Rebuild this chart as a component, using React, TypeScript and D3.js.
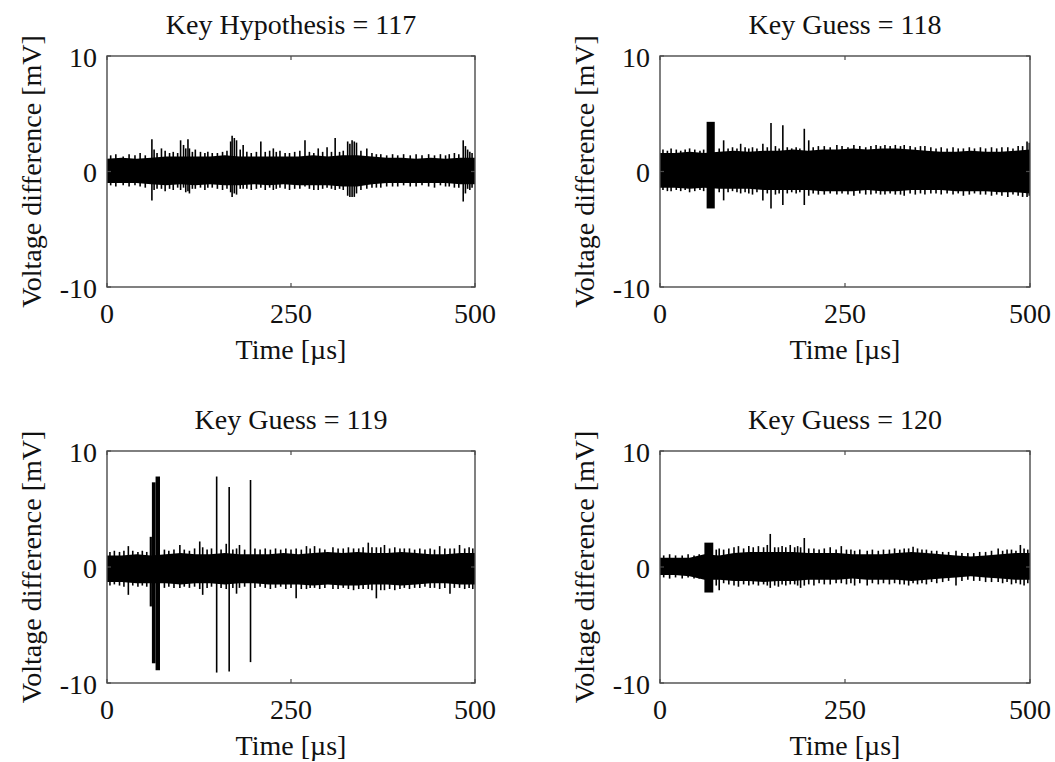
import { useEffect, useRef } from "react";
import * as d3 from "d3";

// time grid (µs) for the noise band envelope
const envTime = [0, 20, 40, 60, 80, 100, 120, 140, 160, 180, 200, 220, 240, 260, 280, 300, 320, 340, 360, 380, 400, 420, 440, 460, 480, 500];

const titles = ["Key Hypothesis = 117", "Key Guess = 118", "Key Guess = 119", "Key Guess = 120"];
const xTicks = [0, 250, 500];
const yTicks = [-10, 0, 10];
const xLabel = "Time [µs]";
const yLabel = "Voltage difference [mV]";

// Key 117
const hi117 = [1.1, 1.2, 1.1, 1.2, 1.3, 1.3, 1.3, 1.3, 1.4, 1.3, 1.3, 1.3, 1.3, 1.3, 1.4, 1.3, 1.4, 1.4, 1.3, 1.2, 1.2, 1.1, 1.2, 1.1, 1.2, 1.2];
const lo117 = [-1.0, -1.0, -1.0, -1.1, -1.2, -1.1, -1.2, -1.1, -1.2, -1.2, -1.1, -1.2, -1.1, -1.2, -1.2, -1.2, -1.3, -1.3, -1.1, -1.0, -1.0, -1.0, -1.0, -1.0, -1.1, -1.1];
const spikes117: [number, number, number][] = [
  [5, 1.4, -1.2], [12, 1.5, -1.3], [22, 1.3, -1.2], [30, 1.5, -1.3], [38, 1.4, -1.2], [45, 1.6, -1.3], [52, 1.4, -1.4],
  [61, 2.8, -2.5], [64, 1.9, -1.6], [68, 1.6, -1.5], [74, 2.0, -1.5], [79, 1.8, -1.7], [85, 1.6, -1.5], [90, 1.7, -1.6],
  [96, 1.6, -1.4], [100, 2.7, -1.6], [104, 2.3, -1.4], [107, 2.0, -1.8], [110, 2.8, -1.7], [112, 2.0, -1.9], [116, 1.7, -1.5],
  [120, 1.9, -1.5], [127, 1.7, -1.4], [133, 1.6, -1.6], [137, 1.7, -1.4], [143, 1.6, -1.4], [150, 1.6, -1.5], [157, 1.7, -1.6],
  [163, 1.8, -1.5], [168, 2.6, -1.8], [170, 3.1, -2.2], [173, 2.9, -1.9], [176, 2.7, -2.0], [181, 1.9, -1.5], [185, 2.3, -1.5],
  [190, 1.7, -1.5], [196, 1.6, -1.6], [203, 1.7, -1.5], [209, 2.6, -1.4], [215, 1.7, -1.6], [221, 1.8, -1.4], [226, 2.0, -1.6],
  [230, 1.7, -1.5], [235, 1.8, -1.4], [242, 1.6, -1.5], [248, 1.6, -1.6], [255, 1.7, -1.5], [262, 1.8, -1.5], [269, 2.7, -1.3],
  [275, 1.7, -1.5], [281, 1.6, -1.6], [287, 2.0, -1.6], [293, 1.7, -1.5], [299, 2.1, -1.4], [305, 1.7, -1.5], [310, 2.9, -1.6],
  [316, 1.7, -1.5], [321, 1.8, -1.6], [327, 2.6, -2.1], [330, 2.4, -2.2], [333, 2.7, -2.2], [336, 2.6, -2.2], [339, 2.5, -1.9],
  [345, 1.8, -1.6], [353, 2.0, -1.5], [360, 1.6, -1.4], [366, 1.5, -1.4], [372, 1.5, -1.4], [380, 1.4, -1.3], [388, 1.5, -1.3],
  [395, 1.4, -1.3], [403, 1.5, -1.2], [412, 1.4, -1.3], [420, 1.5, -1.3], [428, 1.4, -1.2], [437, 1.5, -1.3], [445, 1.4, -1.4],
  [453, 1.5, -1.2], [460, 1.4, -1.3], [465, 1.5, -1.3], [472, 1.6, -1.4], [478, 1.5, -1.4], [484, 2.7, -2.6], [487, 2.2, -1.9],
  [490, 1.9, -1.5], [493, 1.7, -1.6], [496, 1.6, -1.4],
];
const bursts117: [number, number, number, number][] = [];

// Key 118
const hi118 = [1.6, 1.6, 1.7, 1.6, 1.7, 1.8, 1.7, 1.8, 1.8, 1.9, 1.8, 1.9, 1.9, 2.0, 1.9, 2.0, 2.0, 1.9, 1.8, 1.7, 1.7, 1.8, 1.7, 1.7, 1.8, 1.9];
const lo118 = [-1.4, -1.4, -1.5, -1.4, -1.5, -1.5, -1.5, -1.6, -1.6, -1.6, -1.6, -1.7, -1.7, -1.7, -1.6, -1.7, -1.7, -1.6, -1.6, -1.6, -1.7, -1.7, -1.7, -1.8, -1.8, -1.9];
const spikes118: [number, number, number][] = [
  [4, 1.9, -1.6], [10, 1.8, -1.7], [15, 2.0, -1.7], [22, 1.9, -1.6], [28, 1.8, -1.7], [34, 1.9, -1.6], [40, 2.0, -1.8],
  [47, 1.9, -1.7], [54, 1.8, -1.6], [59, 1.9, -1.7], [80, 2.0, -1.8], [86, 2.7, -2.5], [92, 2.0, -1.8], [98, 2.1, -1.7],
  [104, 2.0, -1.8], [109, 2.4, -1.9], [115, 2.1, -1.8], [120, 2.0, -1.9], [125, 2.1, -2.0], [131, 2.0, -1.8], [139, 2.4, -2.5],
  [145, 2.1, -1.9], [150, 4.2, -3.2], [156, 2.2, -2.0], [161, 2.0, -1.9], [166, 4.0, -2.9], [172, 2.1, -1.9], [178, 2.0, -1.8],
  [184, 2.1, -1.9], [189, 2.0, -1.8], [195, 3.7, -2.9], [201, 2.7, -2.1], [207, 2.1, -1.9], [214, 2.2, -2.0], [222, 2.2, -2.0],
  [230, 2.1, -1.9], [239, 2.3, -2.0], [246, 2.2, -1.9], [254, 2.1, -2.0], [262, 2.3, -2.1], [270, 2.2, -1.9], [278, 2.1, -2.0],
  [285, 2.2, -2.0], [292, 2.3, -1.9], [298, 2.2, -2.0], [304, 2.3, -2.0], [311, 2.2, -1.9], [318, 2.3, -2.0], [325, 2.2, -2.0],
  [330, 2.3, -2.1], [338, 2.2, -1.9], [345, 2.1, -2.0], [352, 2.2, -1.9], [358, 2.2, -2.0], [366, 2.1, -1.9], [373, 2.0, -1.9],
  [380, 2.1, -2.0], [388, 2.0, -1.9], [396, 2.1, -2.0], [403, 2.0, -1.9], [410, 2.0, -2.1], [418, 2.1, -2.0], [425, 2.0, -1.9],
  [433, 2.1, -2.0], [440, 2.0, -2.0], [448, 2.1, -2.1], [455, 2.0, -2.0], [462, 2.1, -2.1], [470, 2.1, -2.2], [477, 2.0, -2.0],
  [484, 2.2, -2.1], [490, 2.2, -2.2], [496, 2.6, -2.2], [499, 2.5, -2.1],
];
const bursts118: [number, number, number, number][] = [
  [63, 74, 4.3, -3.2],
];

// Key 119
const hi119 = [1.0, 1.0, 1.1, 1.0, 1.1, 1.2, 1.1, 1.1, 1.2, 1.1, 1.1, 1.1, 1.2, 1.1, 1.2, 1.3, 1.2, 1.3, 1.2, 1.2, 1.3, 1.2, 1.1, 1.1, 1.2, 1.2];
const lo119 = [-1.3, -1.3, -1.4, -1.4, -1.4, -1.5, -1.4, -1.4, -1.5, -1.4, -1.4, -1.5, -1.5, -1.5, -1.6, -1.5, -1.6, -1.6, -1.5, -1.5, -1.6, -1.5, -1.4, -1.4, -1.5, -1.5];
const spikes119: [number, number, number][] = [
  [4, 1.3, -1.6], [10, 1.4, -1.5], [17, 1.3, -1.6], [23, 1.4, -1.7], [29, 1.8, -2.4], [35, 1.4, -1.6], [42, 1.3, -1.7],
  [48, 1.4, -1.6], [54, 1.3, -1.7], [78, 1.5, -1.8], [84, 1.4, -1.7], [91, 1.5, -1.8], [99, 1.9, -1.8], [105, 1.5, -1.7],
  [112, 1.4, -1.8], [119, 1.6, -1.7], [126, 2.2, -1.9], [130, 1.7, -2.4], [136, 1.5, -1.8], [142, 1.6, -1.7], [149, 7.8, -9.1],
  [155, 1.5, -1.8], [162, 2.0, -1.9], [166, 6.9, -9.0], [171, 1.5, -1.8], [176, 1.6, -2.3], [180, 1.9, -1.8], [187, 1.5, -1.7],
  [195, 7.5, -8.2], [201, 1.6, -1.8], [208, 1.5, -1.7], [215, 1.6, -1.8], [222, 1.5, -1.9], [229, 1.6, -1.8], [236, 1.5, -1.7],
  [243, 1.6, -1.9], [250, 1.5, -1.8], [257, 1.6, -2.7], [264, 1.5, -1.9], [271, 1.8, -1.9], [276, 1.6, -1.8], [282, 1.8, -1.8],
  [289, 1.6, -1.9], [296, 1.5, -1.8], [307, 1.7, -1.9], [314, 1.6, -1.9], [321, 1.6, -1.8], [328, 1.7, -1.9], [335, 1.6, -2.0],
  [342, 1.6, -1.9], [348, 1.7, -1.9], [355, 2.1, -1.9], [360, 1.7, -2.0], [366, 1.7, -2.7], [372, 1.7, -2.0], [377, 1.9, -2.0],
  [384, 1.6, -1.9], [391, 1.7, -2.0], [398, 1.6, -1.9], [404, 1.6, -1.8], [411, 1.6, -1.9], [418, 1.5, -1.8], [425, 1.6, -1.8],
  [432, 1.5, -1.7], [439, 1.6, -1.8], [445, 1.5, -1.8], [452, 1.8, -1.9], [459, 1.6, -1.8], [466, 1.6, -2.3], [472, 1.6, -1.8],
  [479, 1.9, -1.8], [486, 1.6, -1.9], [492, 1.7, -1.8], [497, 1.6, -1.9],
];
const bursts119: [number, number, number, number][] = [
  [58, 61, 2.6, -3.4], [61, 66, 7.3, -8.3], [66, 72, 7.8, -8.9],
];

// Key 120
const hi120 = [0.8, 0.8, 0.8, 1.1, 1.0, 1.2, 1.3, 1.3, 1.3, 1.3, 1.2, 1.2, 1.2, 1.1, 1.1, 1.1, 1.2, 1.3, 1.2, 1.1, 1.0, 0.9, 1.0, 1.1, 1.2, 1.2];
const lo120 = [-0.7, -0.7, -0.8, -1.1, -1.1, -1.2, -1.2, -1.3, -1.2, -1.2, -1.1, -1.1, -1.1, -1.0, -1.1, -1.1, -1.1, -1.2, -1.1, -1.0, -0.9, -0.8, -0.9, -1.0, -1.1, -1.1];
const spikes120: [number, number, number][] = [
  [5, 1.0, -0.9], [13, 1.1, -1.0], [21, 1.0, -0.9], [30, 1.0, -1.0], [38, 1.1, -0.9], [46, 1.0, -1.0], [53, 1.1, -1.0],
  [76, 1.5, -1.6], [80, 1.6, -2.0], [86, 1.5, -1.4], [93, 1.6, -1.5], [100, 1.7, -1.6], [106, 1.8, -1.7], [113, 1.6, -1.5],
  [120, 1.8, -1.6], [126, 1.7, -1.5], [133, 1.8, -1.6], [140, 1.7, -1.5], [145, 1.9, -1.6], [149, 2.85, -1.8], [155, 1.7, -1.6],
  [160, 1.7, -1.7], [165, 1.8, -1.5], [170, 1.7, -1.6], [176, 1.9, -1.5], [182, 1.7, -1.5], [186, 1.8, -1.6], [190, 1.7, -1.8],
  [195, 2.5, -1.6], [201, 1.6, -1.5], [208, 1.6, -1.6], [215, 1.5, -1.4], [222, 1.6, -1.5], [230, 1.7, -1.5], [238, 1.5, -1.4],
  [245, 1.8, -1.4], [252, 1.5, -1.5], [258, 1.5, -1.4], [263, 1.4, -1.6], [270, 1.5, -1.4], [280, 1.4, -1.6], [287, 1.5, -1.4],
  [295, 1.4, -1.5], [302, 1.5, -1.4], [310, 1.5, -1.5], [317, 1.6, -1.4], [324, 1.5, -1.5], [330, 1.6, -1.5], [336, 1.6, -1.6],
  [342, 1.75, -1.4], [348, 1.6, -1.5], [354, 1.5, -1.4], [360, 1.5, -1.5], [367, 1.4, -1.3], [374, 1.4, -1.4], [382, 1.3, -1.3],
  [390, 1.3, -1.2], [400, 1.4, -1.6], [408, 1.2, -1.2], [416, 1.2, -1.1], [424, 1.2, -1.2], [432, 1.3, -1.2], [440, 1.3, -1.3],
  [448, 1.4, -1.3], [457, 1.6, -1.3], [463, 1.4, -1.4], [469, 1.5, -1.3], [475, 1.5, -1.5], [481, 1.4, -1.4], [487, 1.9, -1.5],
  [492, 1.6, -1.6], [497, 1.5, -1.4],
];
const bursts120: [number, number, number, number][] = [
  [60, 72, 2.1, -2.2],
];

const panels = [
  { title: titles[0], hi: hi117, lo: lo117, spikes: spikes117, bursts: bursts117, left: 107, top: 56, w: 368, h: 231 },
  { title: titles[1], hi: hi118, lo: lo118, spikes: spikes118, bursts: bursts118, left: 660, top: 56, w: 370, h: 231 },
  { title: titles[2], hi: hi119, lo: lo119, spikes: spikes119, bursts: bursts119, left: 107, top: 451, w: 368, h: 232 },
  { title: titles[3], hi: hi120, lo: lo120, spikes: spikes120, bursts: bursts120, left: 660, top: 451, w: 370, h: 232 },
];

export default function App() {
  const ref = useRef<SVGSVGElement>(null);

  useEffect(() => {
    const svg = d3.select(ref.current);
    svg.selectAll("*").remove();

    const font = "'Liberation Serif', 'Times New Roman', serif";

    panels.forEach((p, i) => {
      const x = d3.scaleLinear().domain([0, 500]).range([0, p.w]);
      const y = d3.scaleLinear().domain([-10, 10]).range([p.h, 0]);

      const g = svg.append("g").attr("transform", `translate(${p.left},${p.top})`);

      g.append("clipPath")
        .attr("id", `clip${i}`)
        .append("rect")
        .attr("width", p.w)
        .attr("height", p.h);

      const plot = g.append("g").attr("clip-path", `url(#clip${i})`);

      // dense noise band
      const area = d3
        .area<number>()
        .x((_, j) => x(envTime[j]))
        .y0((_, j) => y(p.lo[j]))
        .y1((_, j) => y(p.hi[j]));

      plot.append("path").datum(p.hi).attr("fill", "#000").attr("d", area);

      // bursts
      plot
        .selectAll(".burst")
        .data(p.bursts)
        .enter()
        .append("rect")
        .attr("x", (d) => x(d[0]))
        .attr("width", (d) => x(d[1]) - x(d[0]))
        .attr("y", (d) => y(d[2]))
        .attr("height", (d) => y(d[3]) - y(d[2]))
        .attr("fill", "#000");

      // spikes
      plot
        .selectAll(".spike")
        .data(p.spikes)
        .enter()
        .append("line")
        .attr("x1", (d) => x(d[0]))
        .attr("x2", (d) => x(d[0]))
        .attr("y1", (d) => y(d[1]))
        .attr("y2", (d) => y(d[2]))
        .attr("stroke", "#000")
        .attr("stroke-width", 1.6);

      // box
      g.append("rect")
        .attr("width", p.w)
        .attr("height", p.h)
        .attr("fill", "none")
        .attr("stroke", "#4a4a4a")
        .attr("stroke-width", 1.4);

      // inward ticks
      xTicks.forEach((t) => {
        g.append("line").attr("x1", x(t)).attr("x2", x(t)).attr("y1", p.h).attr("y2", p.h - 4).attr("stroke", "#4a4a4a").attr("stroke-width", 1.2);
        g.append("line").attr("x1", x(t)).attr("x2", x(t)).attr("y1", 0).attr("y2", 4).attr("stroke", "#4a4a4a").attr("stroke-width", 1.2);
      });
      yTicks.forEach((t) => {
        g.append("line").attr("x1", 0).attr("x2", 4).attr("y1", y(t)).attr("y2", y(t)).attr("stroke", "#4a4a4a").attr("stroke-width", 1.2);
        g.append("line").attr("x1", p.w).attr("x2", p.w - 4).attr("y1", y(t)).attr("y2", y(t)).attr("stroke", "#4a4a4a").attr("stroke-width", 1.2);
      });

      const txt = (sel: d3.Selection<SVGTextElement, unknown, null, undefined>) =>
        sel.style("font-family", font).style("font-size", "28px").style("fill", "#111");

      xTicks.forEach((t) => {
        g.append("text")
          .attr("x", x(t))
          .attr("y", p.h + 36)
          .attr("text-anchor", "middle")
          .text(String(t))
          .call(txt);
      });
      yTicks.forEach((t) => {
        g.append("text")
          .attr("x", -10)
          .attr("y", y(t) + 10.5)
          .attr("text-anchor", "end")
          .text(String(t))
          .call(txt);
      });

      g.append("text")
        .attr("x", p.w / 2)
        .attr("y", p.h + 71.5)
        .attr("text-anchor", "middle")
        .text(xLabel)
        .call(txt);

      g.append("text")
        .attr("transform", `translate(-66,${p.h / 2}) rotate(-90)`)
        .attr("text-anchor", "middle")
        .text(yLabel)
        .call(txt);

      g.append("text")
        .attr("x", p.w / 2)
        .attr("y", -22.5)
        .attr("text-anchor", "middle")
        .text(p.title)
        .call(txt);
    });
  }, []);

  return (
    <svg
      ref={ref}
      width={1055}
      height={762}
      style={{ position: "absolute", left: 0, top: 0, background: "#fff" }}
    />
  );
}
